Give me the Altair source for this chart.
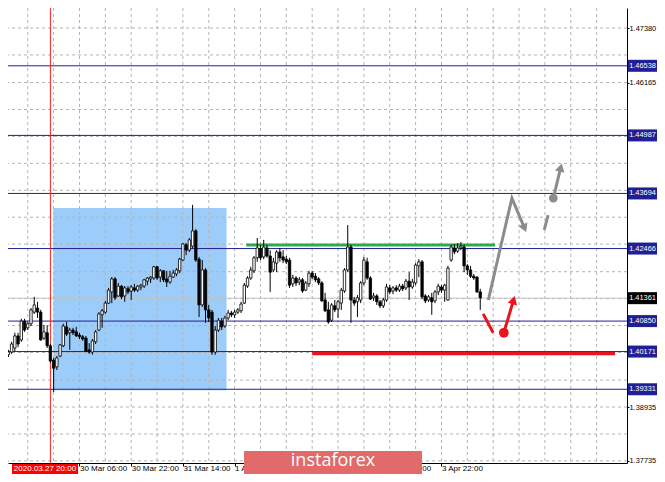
import altair as alt
import pandas as pd

# ---------------- data ----------------
first_bar = -14  # bar index relative to the 2020.03.27 20:00 marker
opens = [1.4007, 1.4010, 1.4016, 1.4025, 1.4052, 1.4043, 1.4085, 1.4070, 1.4079, 1.4105,
         1.4114, 1.4105, 1.4047, 1.4059, 1.4030, 1.3998, 1.3983, 1.4007, 1.4030, 1.4072,
         1.4059, 1.4065, 1.4061, 1.4054, 1.4050, 1.4047, 1.4021, 1.4016, 1.4039, 1.4065,
         1.4099, 1.4105, 1.4125, 1.4150, 1.4179, 1.4141, 1.4163, 1.4141, 1.4157, 1.4152,
         1.4159, 1.4154, 1.4161, 1.4163, 1.4174, 1.4179, 1.4181, 1.4206, 1.4183, 1.4197,
         1.4179, 1.4172, 1.4183, 1.4190, 1.4197, 1.4221, 1.4255, 1.4243, 1.4252, 1.4286,
         1.4223, 1.4121, 1.4199, 1.4110, 1.4105, 1.4016, 1.4065, 1.4085, 1.4074, 1.4092,
         1.4103, 1.4099, 1.4105, 1.4108, 1.4125, 1.4163, 1.4181, 1.4197, 1.4226, 1.4246,
         1.4228, 1.4248, 1.4230, 1.4199, 1.4214, 1.4239, 1.4228, 1.4223, 1.4221, 1.4168,
         1.4181, 1.4172, 1.4177, 1.4154, 1.4168, 1.4192, 1.4185, 1.4179, 1.4170, 1.4132,
         1.4110, 1.4087, 1.4119, 1.4112, 1.4125, 1.4152, 1.4199, 1.4250, 1.4132, 1.4128,
         1.4132, 1.4170, 1.4217, 1.4181, 1.4137, 1.4141, 1.4128, 1.4119, 1.4132, 1.4159,
         1.4152, 1.4159, 1.4154, 1.4163, 1.4159, 1.4174, 1.4161, 1.4170, 1.4208, 1.4217,
         1.4141, 1.4132, 1.4137, 1.4130, 1.4150, 1.4161, 1.4154, 1.4132, 1.4221, 1.4248,
         1.4241, 1.4248, 1.4250, 1.4208, 1.4199, 1.4185, 1.4183, 1.4150]
highs = [1.4016, 1.4021, 1.4039, 1.4059, 1.4059, 1.4090, 1.4090, 1.4083, 1.4114, 1.4139,
         1.4128, 1.4110, 1.4076, 1.4076, 1.4034, 1.4003, 1.4007, 1.4034, 1.4079, 1.4083,
         1.4070, 1.4070, 1.4072, 1.4059, 1.4054, 1.4052, 1.4036, 1.4045, 1.4065, 1.4105,
         1.4112, 1.4130, 1.4159, 1.4183, 1.4183, 1.4170, 1.4165, 1.4163, 1.4163, 1.4165,
         1.4168, 1.4165, 1.4168, 1.4179, 1.4183, 1.4185, 1.4208, 1.4208, 1.4201, 1.4199,
         1.4197, 1.4197, 1.4199, 1.4203, 1.4226, 1.4259, 1.4259, 1.4270, 1.4344, 1.4290,
         1.4228, 1.4221, 1.4203, 1.4121, 1.4110, 1.4074, 1.4092, 1.4092, 1.4097, 1.4110,
         1.4108, 1.4110, 1.4114, 1.4128, 1.4170, 1.4185, 1.4206, 1.4230, 1.4270, 1.4255,
         1.4266, 1.4255, 1.4243, 1.4226, 1.4243, 1.4248, 1.4243, 1.4230, 1.4226, 1.4188,
         1.4185, 1.4183, 1.4181, 1.4174, 1.4197, 1.4197, 1.4192, 1.4183, 1.4174, 1.4148,
         1.4128, 1.4125, 1.4132, 1.4132, 1.4159, 1.4203, 1.4299, 1.4255, 1.4139, 1.4143,
         1.4174, 1.4228, 1.4226, 1.4185, 1.4148, 1.4145, 1.4132, 1.4137, 1.4168, 1.4165,
         1.4163, 1.4165, 1.4168, 1.4168, 1.4179, 1.4194, 1.4179, 1.4214, 1.4223, 1.4221,
         1.4145, 1.4143, 1.4148, 1.4154, 1.4168, 1.4165, 1.4168, 1.4208, 1.4255, 1.4257,
         1.4259, 1.4261, 1.4255, 1.4212, 1.4208, 1.4190, 1.4185, 1.4157]
lows = [1.4001, 1.4005, 1.4012, 1.4018, 1.4027, 1.4039, 1.4061, 1.4065, 1.4074, 1.4101,
        1.4092, 1.4041, 1.4043, 1.4025, 1.3992, 1.3927, 1.3976, 1.4005, 1.4027, 1.4052,
        1.4021, 1.4054, 1.4050, 1.4045, 1.4041, 1.4016, 1.4012, 1.4010, 1.4034, 1.4063,
        1.4070, 1.4101, 1.4123, 1.4125, 1.4132, 1.4139, 1.4134, 1.4128, 1.4145, 1.4132,
        1.4150, 1.4150, 1.4154, 1.4159, 1.4165, 1.4170, 1.4177, 1.4177, 1.4172, 1.4172,
        1.4161, 1.4168, 1.4181, 1.4185, 1.4192, 1.4219, 1.4232, 1.4239, 1.4248, 1.4217,
        1.4094, 1.4117, 1.4081, 1.4083, 1.4010, 1.4010, 1.4061, 1.4065, 1.4070, 1.4087,
        1.4094, 1.4092, 1.4101, 1.4103, 1.4123, 1.4159, 1.4177, 1.4192, 1.4217, 1.4221,
        1.4223, 1.4226, 1.4150, 1.4194, 1.4194, 1.4217, 1.4214, 1.4212, 1.4159, 1.4161,
        1.4163, 1.4165, 1.4148, 1.4152, 1.4161, 1.4179, 1.4172, 1.4165, 1.4128, 1.4105,
        1.4079, 1.4083, 1.4105, 1.4092, 1.4110, 1.4148, 1.4194, 1.4081, 1.4119, 1.4094,
        1.4125, 1.4165, 1.4177, 1.4132, 1.4130, 1.4121, 1.4114, 1.4114, 1.4128, 1.4145,
        1.4145, 1.4150, 1.4150, 1.4152, 1.4154, 1.4132, 1.4157, 1.4165, 1.4183, 1.4134,
        1.4125, 1.4128, 1.4099, 1.4125, 1.4143, 1.4148, 1.4128, 1.4130, 1.4217, 1.4234,
        1.4237, 1.4243, 1.4194, 1.4188, 1.4181, 1.4177, 1.4148, 1.4110]
closes = [1.4012, 1.4016, 1.4034, 1.4052, 1.4034, 1.4085, 1.4065, 1.4079, 1.4110, 1.4121,
          1.4105, 1.4043, 1.4061, 1.4030, 1.3996, 1.3980, 1.4003, 1.4032, 1.4074, 1.4056,
          1.4065, 1.4059, 1.4052, 1.4050, 1.4045, 1.4018, 1.4016, 1.4041, 1.4061, 1.4101,
          1.4108, 1.4125, 1.4154, 1.4179, 1.4137, 1.4163, 1.4139, 1.4159, 1.4150, 1.4161,
          1.4154, 1.4163, 1.4165, 1.4177, 1.4181, 1.4183, 1.4206, 1.4181, 1.4197, 1.4177,
          1.4172, 1.4185, 1.4192, 1.4199, 1.4223, 1.4257, 1.4243, 1.4266, 1.4286, 1.4221,
          1.4121, 1.4199, 1.4110, 1.4092, 1.4016, 1.4065, 1.4087, 1.4072, 1.4092, 1.4103,
          1.4099, 1.4105, 1.4110, 1.4123, 1.4165, 1.4181, 1.4199, 1.4226, 1.4248, 1.4226,
          1.4250, 1.4230, 1.4194, 1.4217, 1.4239, 1.4226, 1.4221, 1.4217, 1.4165, 1.4181,
          1.4170, 1.4177, 1.4152, 1.4170, 1.4192, 1.4183, 1.4177, 1.4170, 1.4130, 1.4108,
          1.4083, 1.4121, 1.4110, 1.4128, 1.4154, 1.4199, 1.4250, 1.4132, 1.4125, 1.4137,
          1.4170, 1.4221, 1.4181, 1.4134, 1.4141, 1.4128, 1.4119, 1.4132, 1.4161, 1.4150,
          1.4159, 1.4154, 1.4163, 1.4157, 1.4174, 1.4161, 1.4172, 1.4210, 1.4217, 1.4139,
          1.4130, 1.4139, 1.4128, 1.4150, 1.4163, 1.4154, 1.4165, 1.4203, 1.4250, 1.4239,
          1.4248, 1.4252, 1.4208, 1.4199, 1.4185, 1.4181, 1.4150, 1.4137]
bars = list(range(first_bar, first_bar + len(opens)))

levels = [1.46538, 1.44987, 1.43694, 1.42466, 1.40850, 1.40171, 1.39331]
current_price = [1.41361]
price_ticks = [1.47380, 1.46780, 1.46165, 1.45565, 1.44965, 1.44365, 1.43765, 1.43165,
               1.42565, 1.41950, 1.41350, 1.40750, 1.40150, 1.39535, 1.38935, 1.38335, 1.37735]
# scale labels that sit under a level label are not printed
hidden_price_labels = ["1.44965", "1.43765", "1.42565", "1.41350", "1.40150"]
time_tick_bars = [-7, 9, 25, 41, 57, 73, 89, 105, 121]
# labels hidden behind the marker label and the watermark are left blank
time_tick_labels = ["", "30 Mar 06:00", "30 Mar 22:00", "31 Mar 14:00", "1 Apr 06:00",
                    "", "", "3 Apr 06:00", "3 Apr 22:00"]
grid_bars = [-7, 1, 9, 17, 25, 33, 41, 49, 57, 65, 73, 81, 89, 97, 105, 113, 121,
             129, 137, 145, 153, 161, 169]
marker_bar = [0]
marker_label = "2020.03.27 20:00"

# blue rectangle zone
zone_bars = [0.9, 54.5]
zone_prices = [1.3931, 1.4337]
# green resistance, red support segments
green_seg = {"b1": [60.6], "b2": [137.6], "p": [1.42545]}
red_seg = {"b1": [81.0], "b2": [174.7], "p": [1.40128]}

# annotation paths (bar, price)
grey_main_bars = [135.5, 142.8, 146.7]
grey_main_prices = [1.4132, 1.4359, 1.4292]
grey_dash_bars = [152.8, 154.0]
grey_dash_prices = [1.4288, 1.4321]
grey_up_bars = [155.6, 157.9]
grey_up_prices = [1.4359, 1.4427]
red_dash_bars = [133.9, 137.0]
red_dash_prices = [1.4101, 1.4059]
red_up_bars = [140.3, 143.3]
red_up_prices = [1.4059, 1.4132]

x_domain = [-11.57, 176.86]
y_domain = [1.37688, 1.47826]

FONT = "Liberation Sans"
NAVY = "#1f1f96"
GREY_A = "#8c8c8c"
RED_A = "#e8141e"
AX_FS = 7.4

candles = pd.DataFrame({"bar": bars, "open": opens, "high": highs, "low": lows, "close": closes})

xs = alt.Scale(domain=x_domain, nice=False, zero=False)
ys = alt.Scale(domain=y_domain, nice=False, zero=False)

label_map = "{" + ",".join(f"'{b}':'{l}'" for b, l in zip(time_tick_bars, time_tick_labels)) + "}[datum.value]"
hidden_expr = "[" + ",".join(f"'{h}'" for h in hidden_price_labels) + "]"
y_label_expr = f"indexof({hidden_expr}, format(datum.value, '.5f')) >= 0 ? '' : format(datum.value, '.5f')"

x_axis = alt.Axis(values=time_tick_bars, labelExpr=label_map, labelAlign="left", labelPadding=-2,
                  labelFont=FONT, labelFontSize=8, labelColor="black", tickSize=3, tickColor="black",
                  domainColor="black", grid=False, title=None, labelOverlap=False, labelFlush=False,
                  labelBound=False, labelBaseline="top")
y_axis = alt.Axis(orient="right", values=price_ticks, labelExpr=y_label_expr, labelFont=FONT,
                  labelFontSize=AX_FS, labelColor="black", tickSize=2, tickColor="black",
                  domainColor="black", grid=False, title=None, labelOverlap=False, labelPadding=0,
                  labelFlush=False, labelBound=False)

# zone rect
zone = alt.Chart(pd.DataFrame({"b1": [zone_bars[0]], "b2": [zone_bars[1]],
                               "p1": [zone_prices[0]], "p2": [zone_prices[1]]})).mark_rect(
    color="#9cccfa", clip=True).encode(
    x=alt.X("b1:Q", scale=xs, axis=x_axis), x2="b2:Q",
    y=alt.Y("p1:Q", scale=ys, axis=y_axis), y2="p2:Q")

grid_dash = [3, 3]
vgrid = alt.Chart(pd.DataFrame({"bar": grid_bars})).mark_rule(
    color="#b4b4b4", strokeDash=grid_dash, strokeWidth=1, clip=True).encode(x=alt.X("bar:Q", scale=xs))
hgrid = alt.Chart(pd.DataFrame({"price": price_ticks})).mark_rule(
    color="#b4b4b4", strokeDash=grid_dash, strokeWidth=1, clip=True).encode(y=alt.Y("price:Q", scale=ys))

cur_line = alt.Chart(pd.DataFrame({"price": current_price})).mark_rule(
    color="#c4c4c4", strokeWidth=1).encode(y=alt.Y("price:Q", scale=ys))
level_lines = alt.Chart(pd.DataFrame({"price": levels})).mark_rule(
    color=NAVY, strokeWidth=1).encode(y=alt.Y("price:Q", scale=ys))
marker_line = alt.Chart(pd.DataFrame({"bar": marker_bar})).mark_rule(
    color="#ff2020", strokeWidth=1).encode(x=alt.X("bar:Q", scale=xs))

green = alt.Chart(pd.DataFrame(green_seg)).mark_rule(color="#2eaa4a", strokeWidth=3).encode(
    x=alt.X("b1:Q", scale=xs), x2="b2:Q", y=alt.Y("p:Q", scale=ys))
redl = alt.Chart(pd.DataFrame(red_seg)).mark_rule(color=RED_A, strokeWidth=3.5).encode(
    x=alt.X("b1:Q", scale=xs), x2="b2:Q", y=alt.Y("p:Q", scale=ys))

wicks = alt.Chart(candles).mark_rule(color="black", strokeWidth=1, clip=True).encode(
    x=alt.X("bar:Q", scale=xs), y=alt.Y("low:Q", scale=ys), y2="high:Q")
bodies = alt.Chart(candles).mark_bar(size=2.4, stroke="black", strokeWidth=0.8, clip=True).encode(
    x=alt.X("bar:Q", scale=xs), y=alt.Y("open:Q", scale=ys), y2="close:Q",
    fill=alt.condition("datum.close >= datum.open", alt.value("white"), alt.value("black")))


def path(bx, py, color, width=3):
    df = pd.DataFrame({"bar": bx, "price": py, "ord": list(range(len(bx)))})
    return alt.Chart(df).mark_line(color=color, strokeWidth=width, strokeCap="butt").encode(
        x=alt.X("bar:Q", scale=xs), y=alt.Y("price:Q", scale=ys), order="ord:Q")


def head(bx, py, color, angle):
    df = pd.DataFrame({"bar": [bx], "price": [py]})
    return alt.Chart(df).mark_point(shape="triangle-up", filled=True, size=95, opacity=1,
                                    color=color, angle=angle).encode(
        x=alt.X("bar:Q", scale=xs), y=alt.Y("price:Q", scale=ys))


def dot(bx, py, color, size):
    df = pd.DataFrame({"bar": [bx], "price": [py]})
    return alt.Chart(df).mark_circle(size=size, opacity=1, color=color).encode(
        x=alt.X("bar:Q", scale=xs), y=alt.Y("price:Q", scale=ys))


arrows = [
    path(grey_main_bars, grey_main_prices, GREY_A),
    head(grey_main_bars[-1], grey_main_prices[-1], GREY_A, 157),
    path(grey_dash_bars, grey_dash_prices, GREY_A),
    path(grey_up_bars, grey_up_prices, GREY_A),
    head(grey_up_bars[-1], grey_up_prices[-1], GREY_A, 14),
    dot(grey_up_bars[0], grey_up_prices[0], GREY_A, 75),
    path(red_dash_bars, red_dash_prices, RED_A),
    path(red_up_bars, red_up_prices, RED_A),
    head(red_up_bars[-1], red_up_prices[-1], RED_A, 16),
    dot(red_up_bars[0], red_up_prices[0], RED_A, 95),
]

# price labels on the right axis
lvl_df = pd.DataFrame({"price": levels})
lvl_box = alt.Chart(lvl_df).mark_rect(color=NAVY, yOffset=-6, y2Offset=6).encode(
    x=alt.value(620), x2=alt.value(649), y=alt.Y("price:Q", scale=ys), y2="price:Q")
lvl_txt = alt.Chart(lvl_df).mark_text(color="white", font=FONT, fontSize=AX_FS, align="center",
                                      baseline="middle").encode(
    x=alt.value(634.5), y=alt.Y("price:Q", scale=ys), text=alt.Text("price:Q", format=".5f"))
cur_df = pd.DataFrame({"price": current_price})
cur_box = alt.Chart(cur_df).mark_rect(color="black", yOffset=-6, y2Offset=6).encode(
    x=alt.value(620), x2=alt.value(649), y=alt.Y("price:Q", scale=ys), y2="price:Q")
cur_txt = alt.Chart(cur_df).mark_text(color="white", font=FONT, fontSize=AX_FS, align="center",
                                      baseline="middle").encode(
    x=alt.value(634.5), y=alt.Y("price:Q", scale=ys), text=alt.Text("price:Q", format=".5f"))

# marker time label under the axis
mk_df = pd.DataFrame({"bar": marker_bar, "label": [marker_label]})
mk_box = alt.Chart(mk_df).mark_rect(color="#ff0000").encode(
    x=alt.value(4), x2=alt.value(70), y=alt.value(456), y2=alt.value(466))
mk_txt = alt.Chart(mk_df).mark_text(color="white", font=FONT, fontSize=8, align="center",
                                    baseline="middle").encode(
    x=alt.value(37), y=alt.value(461), text="label:N")

# watermark
wm_df = pd.DataFrame({"label": ["instaforex"]})
wm_box = alt.Chart(wm_df).mark_rect(color="#e26a6a").encode(
    x=alt.value(236), x2=alt.value(414), y=alt.value(443), y2=alt.value(466))
wm_txt = alt.Chart(wm_df).mark_text(color="white", font="Open Sans", fontSize=18, align="center",
                                    baseline="middle").encode(
    x=alt.value(325), y=alt.value(453), text="label:N")

chart = alt.layer(
    zone, vgrid, hgrid, cur_line, level_lines, marker_line, green, redl, wicks, bodies,
    *arrows, lvl_box, lvl_txt, cur_box, cur_txt, mk_box, mk_txt, wm_box, wm_txt
).properties(
    width=619, height=455, padding={"left": 0, "top": 0, "right": 30, "bottom": 11},
    autosize=alt.AutoSizeParams(type="none"),
    background="white"
).configure_view(strokeWidth=0)

chart.save("out.html", embed_options={"renderer": "svg", "actions": False})
